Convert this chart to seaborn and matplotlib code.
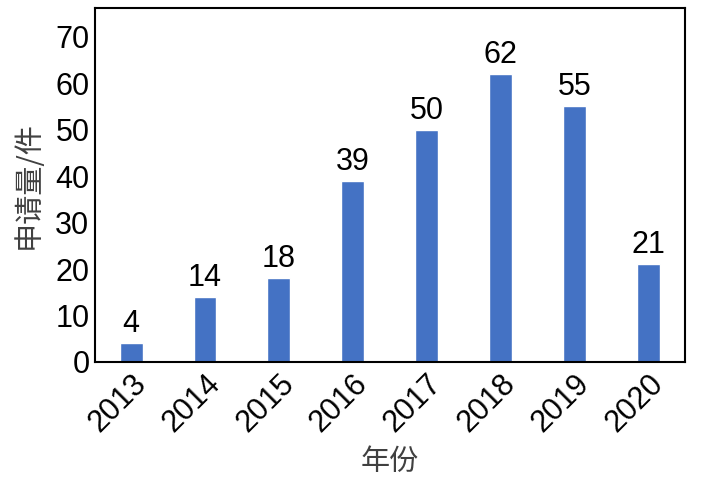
import matplotlib

matplotlib.use("Agg")
import matplotlib.pyplot as plt
import pandas as pd
import seaborn as sns

years = ["2013", "2014", "2015", "2016", "2017", "2018", "2019", "2020"]
counts = [4, 14, 18, 39, 50, 62, 55, 21]
y_ticks = [0, 10, 20, 30, 40, 50, 60, 70]

sns.set_style("white")
plt.rcParams["font.family"] = ["Liberation Sans", "Noto Sans CJK SC", "DejaVu Sans"]

df = pd.DataFrame({"year": years, "count": counts})

fig = plt.figure(figsize=(7.02, 4.87), dpi=100)
ax = fig.add_axes([0.1353, 0.2567, 0.8405, 0.7269])

sns.barplot(data=df, x="year", y="count", color="#4472C4", saturation=1, width=0.31, ax=ax)

for c in ax.containers:
    ax.bar_label(c, fontsize=22, padding=3, color="black")

ax.set_ylim(0, 76.2)
ax.set_xlim(-0.49, 7.5)
ax.set_yticks(y_ticks)
ax.tick_params(axis="y", direction="in", length=6, width=1.5, labelsize=22, pad=4,
               labelcolor="black", color="black")
ax.tick_params(axis="x", length=0, labelsize=22, pad=5, labelcolor="black")
plt.setp(ax.get_xticklabels(), rotation=45, ha="right", rotation_mode="anchor")

for s in ax.spines.values():
    s.set_linewidth(1.5)
    s.set_color("black")
    s.set_visible(True)

ax.set_xlabel("年份", fontsize=21, color="#404040", family=["Noto Sans CJK SC"],
              fontweight="light", labelpad=6)
ax.set_ylabel("申请量/件", fontsize=21, color="#404040", family=["Noto Sans CJK SC"],
              fontweight="light", labelpad=8)

fig.savefig("out.png", dpi=100)
plt.close(fig)
